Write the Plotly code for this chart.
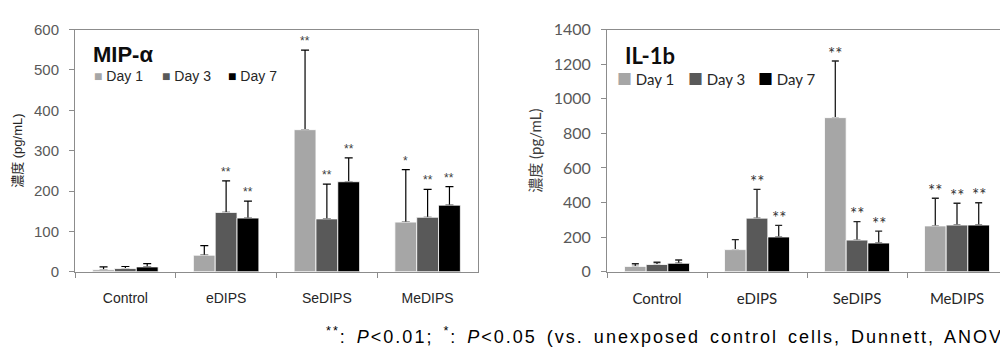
import plotly.graph_objects as go

categories = ["Control", "eDIPS", "SeDIPS", "MeDIPS"]
days = ["Day 1", "Day 3", "Day 7"]

# MIP-α (pg/mL)
mip_mean = {
    "Day 1": [5, 41, 352, 123],
    "Day 3": [8, 147, 131, 135],
    "Day 7": [12, 133, 223, 165],
}
mip_err = {
    "Day 1": [7, 24, 197, 130],
    "Day 3": [5, 78, 86, 69],
    "Day 7": [8, 42, 59, 46],
}
mip_sig = {
    "Day 1": ["", "", "**", "*"],
    "Day 3": ["", "**", "**", "**"],
    "Day 7": ["", "**", "**", "**"],
}

# IL-1b (pg/mL)
il_mean = {
    "Day 1": [31, 128, 891, 265],
    "Day 3": [42, 310, 183, 270],
    "Day 7": [49, 201, 166, 270],
}
il_err = {
    "Day 1": [15, 58, 327, 160],
    "Day 3": [13, 166, 107, 126],
    "Day 7": [19, 67, 69, 129],
}
il_sig = {
    "Day 1": ["", "", "**", "**"],
    "Day 3": ["", "**", "**", "**"],
    "Day 7": ["", "**", "**", "**"],
}

colors = {"Day 1": "#a6a6a6", "Day 3": "#595959", "Day 7": "#000000"}

LF = "Liberation Sans, Arial, Noto Sans CJK JP"
RF = "Lato, Noto Sans CJK JP"
AXC = "#8c8c8c"

fig = go.Figure()

BARGAP = 0.35
bw = (1 - BARGAP) / 3

annotations = []

def add_chart(means, errs, sigs, xa, ya, errcolor, errthick, errw, starfont, starshift):
    # error bars first (transparent bars), then the visible bars on top
    for j, d in enumerate(days):
        fig.add_trace(go.Bar(
            x=categories, y=means[d], name=d, showlegend=False, hoverinfo="skip",
            offset=-(1 - BARGAP) / 2 + j * bw, width=bw,
            marker=dict(color="rgba(0,0,0,0)", line=dict(width=0)),
            error_y=dict(type="data", array=errs[d], arrayminus=[0] * len(categories),
                         symmetric=False, color=errcolor, thickness=errthick, width=errw),
            xaxis=xa, yaxis=ya,
        ))
    for j, d in enumerate(days):
        fig.add_trace(go.Bar(
            x=categories, y=means[d], name=d, showlegend=False,
            offset=-(1 - BARGAP) / 2 + j * bw, width=bw,
            marker=dict(color=colors[d], line=dict(color="white", width=0.8)),
            xaxis=xa, yaxis=ya,
        ))
        for i, c in enumerate(categories):
            s = sigs[d][i]
            if s:
                annotations.append(dict(
                    x=i + (j - 1) * bw, y=means[d][i] + errs[d][i],
                    xref=xa, yref=ya, text=s, showarrow=False,
                    yanchor="middle", yshift=starshift, font=starfont,
                ))

add_chart(mip_mean, mip_err, mip_sig, "x", "y", "#000000", 1.2, 4,
          dict(family=LF, size=12, color="#404040"), 9)
add_chart(il_mean, il_err, il_sig, "x2", "y2", "#262626", 1.4, 3.5,
          dict(family=RF, size=17, color="#333333"), 8)

H = 352.0
ydom = [1 - 276.7 / H, 1 - 20.7 / H]

# legends (annotation based)
def legend_row(xs, y_px, font):
    for d, xp in zip(days, xs):
        annotations.append(dict(
            x=xp / 1000.0, y=1 - y_px / H, xref="paper", yref="paper",
            xanchor="left", yanchor="middle", showarrow=False,
            text=f'<span style="color:{colors[d]}">■</span> {d}',
            font=font,
        ))

legend_row([92, 160, 226], 70, dict(family=LF, size=14, color="#262626"))
legend_row([615, 686, 756], 72.5, dict(family=RF, size=15, color="#262626"))

annotations.append(dict(x=0.091, y=1 - 47 / H, xref="paper", yref="paper",
                        xanchor="left", yanchor="middle", showarrow=False,
                        text="<b>MIP-α</b>", font=dict(family=LF, size=22, color="#0d0d0d")))
annotations.append(dict(x=0.623, y=1 - 48 / H, xref="paper", yref="paper",
                        xanchor="left", yanchor="middle", showarrow=False,
                        text="<b>IL-1b</b>", font=dict(family=RF, size=22, color="#0d0d0d")))

annotations.append(dict(
    x=0.324, y=1 - 344 / H, xref="paper", yref="paper",
    xanchor="left", yanchor="middle", showarrow=False,
    text='<span style="letter-spacing:2px;word-spacing:3px"><sup>**</sup>: <i>P</i>&lt;0.01; '
         '<sup>*</sup>: <i>P</i>&lt;0.05 '
         '(vs. unexposed control cells, Dunnett, ANOVA)</span>',
    font=dict(family=LF, size=18, color="#000000"),
))

xcommon = dict(type="category", showline=True, linecolor=AXC, linewidth=1, mirror=True,
               ticks="outside", tickson="boundaries", ticklen=5, tickcolor=AXC,
               showgrid=False, zeroline=False, ticklabelstandoff=13, fixedrange=True)
ycommon = dict(showline=True, linecolor=AXC, linewidth=1, ticks="outside", ticklen=5,
               tickcolor=AXC, showgrid=False, zeroline=False, ticklabelstandoff=7)

fig.update_layout(
    width=1000, height=352,
    margin=dict(l=0, r=0, t=0, b=0),
    paper_bgcolor="white", plot_bgcolor="white",
    barmode="overlay",
    showlegend=False,
    xaxis=dict(domain=[0.075, 0.478], range=[-0.5, 3.5], anchor="y",
               tickfont=dict(family=LF, size=14, color="#262626"), **xcommon),
    yaxis=dict(domain=ydom, range=[0, 600], dtick=100, anchor="x", mirror=True,
               tickfont=dict(family=LF, size=15, color="#595959"),
               title=dict(text="濃度 (pg/mL)", standoff=8,
                          font=dict(family=LF, size=13, color="#262626")),
               **ycommon),
    xaxis2=dict(domain=[0.607, 1.0], range=[-0.5, 3.43], anchor="y2",
                tickfont=dict(family=RF, size=15, color="#262626"), **xcommon),
    yaxis2=dict(domain=ydom, range=[0, 1400], dtick=200, anchor="x2", mirror=False,
                tickfont=dict(family=RF, size=16, color="#595959"),
                title=dict(text="濃度 (pg/mL)", standoff=8,
                           font=dict(family=RF, size=15, color="#404040")),
                **ycommon),
    annotations=annotations,
)

fig.write_html("out.html")
